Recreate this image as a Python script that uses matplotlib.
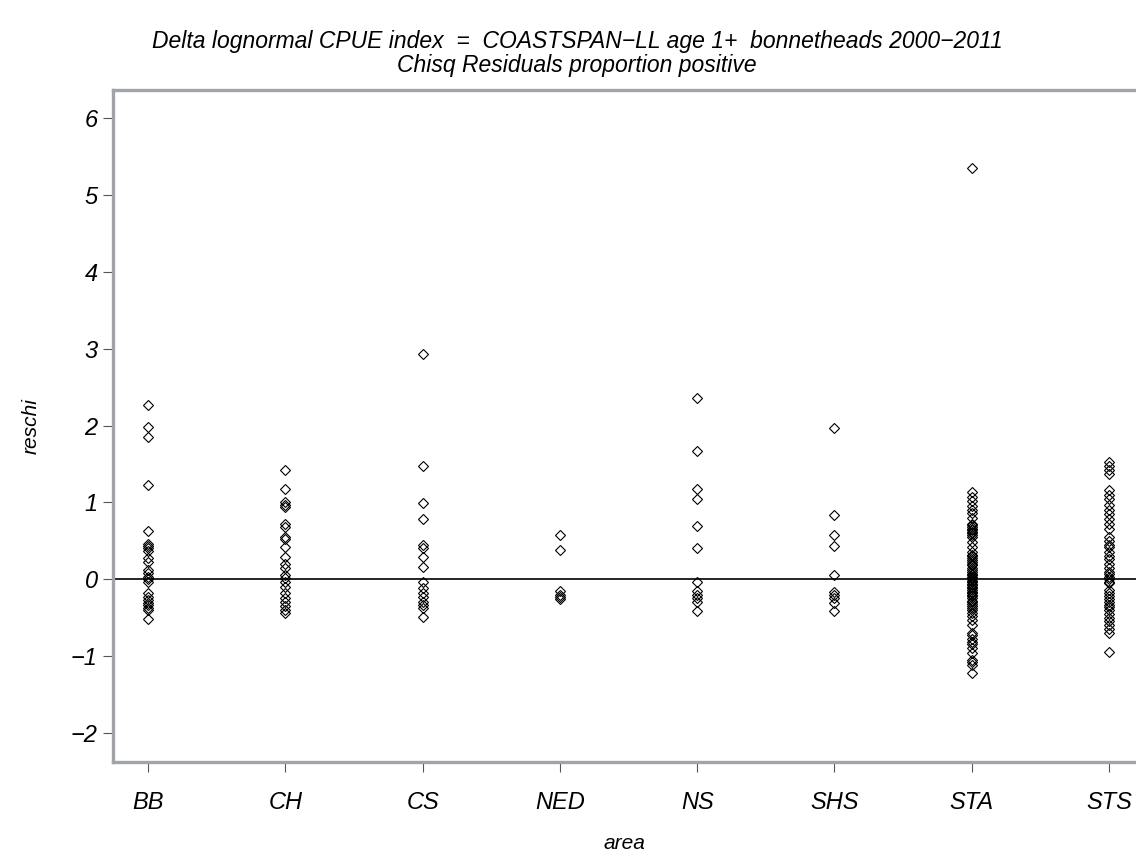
import matplotlib
matplotlib.use("Agg")
import matplotlib.pyplot as plt

areas = ["BB", "CH", "CS", "NED", "NS", "SHS", "STA", "STS"]

bb = [2.27, 1.98, 1.85, 1.23, 0.63, 0.46, 0.43, 0.40, 0.37, 0.27, 0.22, 0.12, 0.08, 0.03,
      0.0, -0.04, -0.18, -0.23, -0.27, -0.31, -0.34, -0.37, -0.40, -0.52]
ch = [1.42, 1.17, 1.00, 0.97, 0.94, 0.72, 0.68, 0.55, 0.52, 0.42, 0.29, 0.20, 0.15, 0.05,
      0.01, -0.04, -0.10, -0.18, -0.25, -0.30, -0.35, -0.40, -0.44]
cs = [2.93, 1.47, 0.99, 0.78, 0.44, 0.40, 0.29, 0.16, -0.04, -0.12, -0.18, -0.23, -0.30,
      -0.34, -0.37, -0.49]
ned = [0.58, 0.38, -0.15, -0.20, -0.23, -0.26]
ns = [2.36, 1.67, 1.17, 1.05, 0.69, 0.41, -0.04, -0.15, -0.20, -0.25, -0.30, -0.41]
shs = [1.97, 0.84, 0.57, 0.43, 0.05, -0.17, -0.20, -0.24, -0.31, -0.42]
sta = [5.35, 1.13, 1.07, 1.02, 0.95, 0.90, 0.86, 0.80, 0.72, 0.70, 0.68, 0.66, 0.64, 0.62,
       0.60, 0.58, 0.55, 0.48, 0.42, 0.35, 0.32, 0.30, 0.28, 0.25, 0.22, 0.20, 0.18, 0.15,
       0.12, 0.10, 0.07, 0.05, 0.03, 0.01, 0.00, -0.02, -0.04, -0.06, -0.08, -0.10, -0.12,
       -0.14, -0.16, -0.18, -0.20, -0.22, -0.25, -0.28, -0.30, -0.32, -0.35, -0.37, -0.40,
       -0.44, -0.48, -0.53, -0.60, -0.70, -0.73, -0.78, -0.82, -0.85, -0.90, -0.96, -1.05,
       -1.08, -1.12, -1.22]
sts = [1.52, 1.47, 1.42, 1.37, 1.16, 1.10, 1.05, 0.96, 0.90, 0.85, 0.78, 0.72, 0.66, 0.55,
       0.50, 0.45, 0.42, 0.35, 0.30, 0.26, 0.20, 0.15, 0.10, 0.07, 0.03, 0.00, -0.03, -0.05,
       -0.14, -0.18, -0.22, -0.26, -0.30, -0.34, -0.36, -0.40, -0.45, -0.50, -0.55, -0.60,
       -0.65, -0.70, -0.95]
series = [bb, ch, cs, ned, ns, shs, sta, sts]

yticks = [-2, -1, 0, 1, 2, 3, 4, 5, 6]

fam = ["Liberation Sans Narrow", "Liberation Sans", "DejaVu Sans"]
plt.rcParams["font.family"] = fam

fig = plt.figure(figsize=(11.36, 8.57), dpi=100)
ax = fig.add_axes([113 / 1136, 95 / 857, 1 - 113 / 1136, (762 - 90) / 857])

for i, vals in enumerate(series):
    ax.plot([i] * len(vals), vals, linestyle="none", marker="D", markersize=5.5,
            markerfacecolor="none", markeredgecolor="black", markeredgewidth=0.8)

ax.axhline(0, color="black", lw=1.2, zorder=0)
ax.set_xlim(-0.255, 7.196)
ax.set_ylim(-2.38, 6.37)
ax.set_xticks(range(len(areas)))
ax.set_xticklabels(areas, fontstyle="italic", fontsize=17)
ax.set_yticks(yticks)
ax.set_yticklabels([str(t).replace("-", "\u2212") for t in yticks], fontstyle="italic", fontsize=17)
ax.tick_params(axis="both", direction="out", length=7, width=0.8, color="#555555")
ax.tick_params(axis="x", pad=14)
ax.tick_params(axis="y", pad=4)

for s in ["left", "top", "bottom"]:
    ax.spines[s].set_color("#a0a4a8")
    ax.spines[s].set_linewidth(2.4)
ax.spines["right"].set_visible(False)

ax.set_xlabel("area", fontstyle="italic", fontsize=15, labelpad=14)
ax.set_ylabel("reschi", fontstyle="italic", fontsize=15, labelpad=22)

fig.text(0.508, 0.952, "Delta lognormal CPUE index  =  COASTSPAN\u2212LL age 1+  bonnetheads 2000\u22122011",
         ha="center", va="center", fontstyle="italic", fontsize=16.5)
fig.text(0.508, 0.923, "Chisq Residuals proportion positive",
         ha="center", va="center", fontstyle="italic", fontsize=16.5)

fig.savefig("out.png", dpi=100)
